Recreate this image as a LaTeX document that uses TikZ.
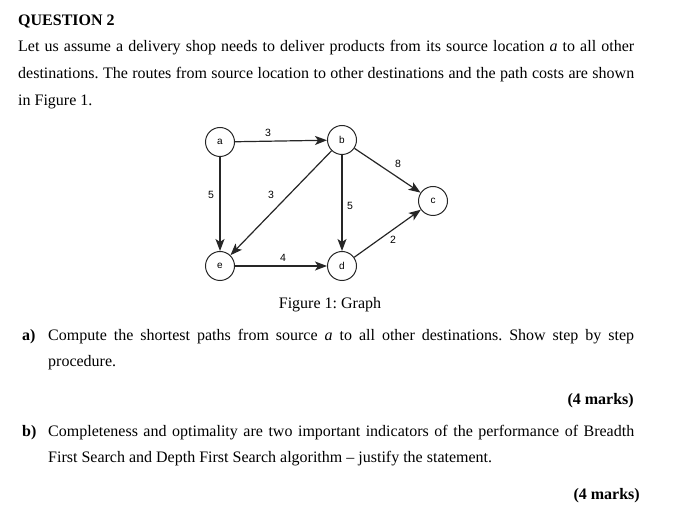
\documentclass[tikz,border=0pt]{standalone}
\usepackage{fontspec}
\setmainfont{Liberation Serif}
\newfontfamily\gsans{Liberation Sans}
\usetikzlibrary{arrows.meta}
\frenchspacing
\begin{document}
\begin{tikzpicture}[x=1pt,y=-1pt,
  ln/.style={anchor=base west,inner sep=0pt,font=\fontsize{16}{19}\selectfont},
  vx/.style={circle,draw=black!85,line width=1pt,minimum size=29pt,inner sep=0pt,font=\gsans\fontsize{10}{11}\selectfont},
  ed/.style={draw=black!85,line width=1.2pt,-{Stealth[length=12pt,width=9pt,inset=3pt]}},
  wl/.style={font=\gsans\fontsize{10.5}{11}\selectfont,inner sep=0pt}]
\useasboundingbox (0,0) rectangle (678,521);
\node[ln,font=\bfseries\fontsize{16}{19}\selectfont] (q) at (18,26) {QUESTION 2};
\node[ln] (l1) at (18,52) {\makebox[616pt][s]{Let us assume a delivery shop needs to deliver products from its source location \textit{a} to all other}};
\node[ln] (l2) at (18,79) {\makebox[616pt][s]{destinations. The routes from source location to other destinations and the path costs are shown}};
\node[ln] (l3) at (18,106) {in Figure 1.};
\node[vx] (a) at (220,142) {a};
\node[vx] (b) at (342,140) {b};
\node[vx] (c) at (433,201) {c};
\node[vx] (e) at (220,266) {e};
\node[vx] (d) at (342,266) {d};
\draw[ed] (a) -- (b);
\draw[ed] (a) -- (e);
\draw[ed] (b) -- (e);
\draw[ed] (b) -- (d);
\draw[ed] (b) -- (c);
\draw[ed] (e) -- (d);
\draw[ed] (d) -- (c);
\node[wl] (w1) at (268,133) {3};
\node[wl] (w2) at (211,195) {5};
\node[wl] (w3) at (271,195) {3};
\node[wl] (w4) at (350,206) {5};
\node[wl] (w5) at (398,164) {8};
\node[wl] (w6) at (283,258) {4};
\node[wl] (w7) at (393,240) {2};
\node[ln,anchor=base] (cap) at (330,309) {Figure 1: Graph};
\node[ln] (qa) at (22,341) {\textbf{a)}};
\node[ln] (qa1) at (48,341) {\makebox[586pt][s]{Compute the shortest paths from source \textit{a} to all other destinations. Show step by step}};
\node[ln] (qa2) at (48,367) {procedure.};
\node[ln,anchor=base east] (m1) at (634,405) {\textbf{(4 marks)}};
\node[ln] (qb) at (22,437) {\textbf{b)}};
\node[ln] (qb1) at (48,437) {\makebox[586pt][s]{Completeness and optimality are two important indicators of the performance of Breadth}};
\node[ln] (qb2) at (48,463) {First Search and Depth First Search algorithm -- justify the statement.};
\node[ln,anchor=base east] (m2) at (640,499) {\textbf{(4 marks)}};
\end{tikzpicture}
\end{document}
